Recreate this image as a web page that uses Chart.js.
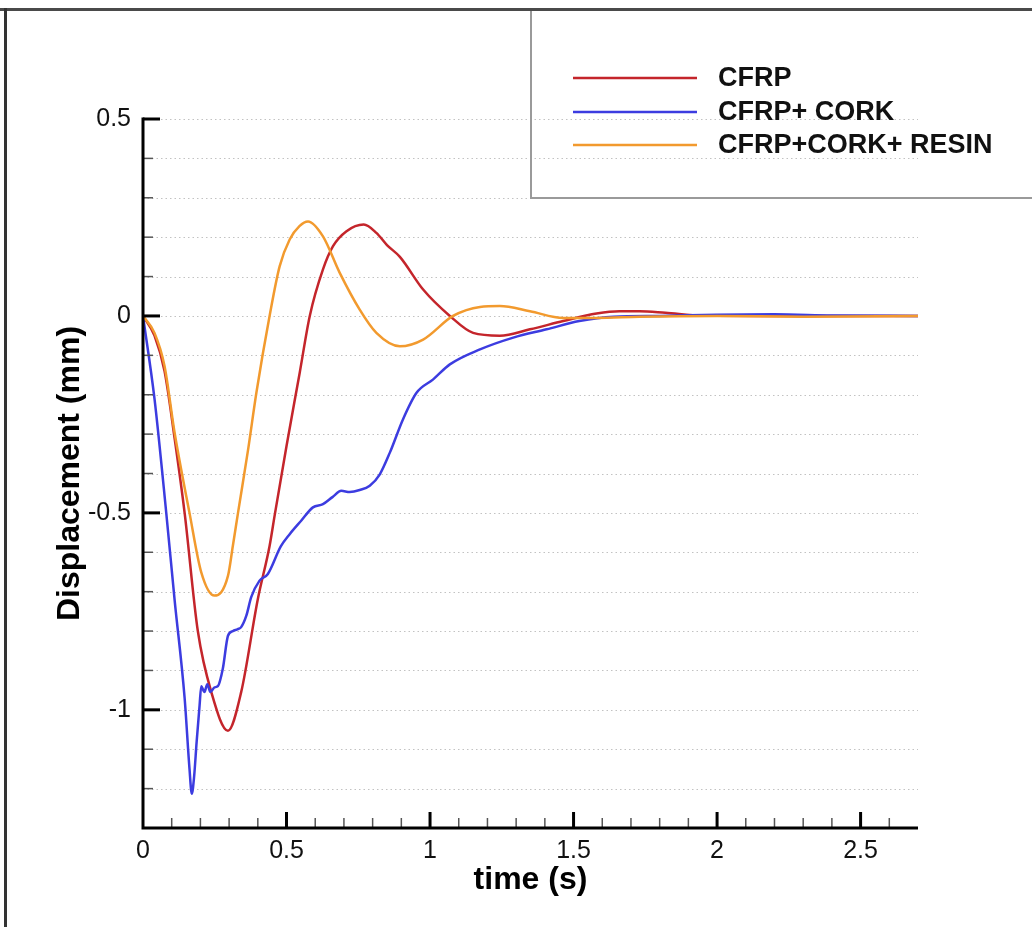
<!DOCTYPE html>
<html>
<head>
<meta charset="utf-8">
<title>Displacement vs time</title>
<script src="https://cdn.jsdelivr.net/npm/chart.js@4.4.1/dist/chart.umd.min.js"></script>
<style>
  html, body { margin: 0; padding: 0; background: #fff; }
  canvas { display: block; }
</style>
</head>
<body>
<canvas id="dispChart" width="1032" height="927"></canvas>
<script>
// values (time in s, displacement in mm)
const seriesNames = ["CFRP", "CFRP+ CORK", "CFRP+CORK+ RESIN"];
const seriesColors = ["#c4252b", "#3c3ce0", "#f29a2e"];

const cfrpT = [0, 0.04, 0.075, 0.11, 0.145, 0.191, 0.238, 0.296, 0.342, 0.40, 0.441, 0.459, 0.50, 0.546, 0.581, 0.627, 0.662, 0.709, 0.769, 0.813, 0.85, 0.895, 0.976, 1.069, 1.15, 1.243, 1.348, 1.464, 1.58, 1.66, 1.73, 1.82, 1.95, 2.2, 2.7];
const cfrpY = [0, -0.05, -0.14, -0.31, -0.50, -0.80, -0.955, -1.053, -0.955, -0.719, -0.584, -0.505, -0.33, -0.144, 0, 0.118, 0.177, 0.215, 0.232, 0.211, 0.18, 0.15, 0.067, 0, -0.043, -0.05, -0.034, -0.013, 0.006, 0.012, 0.012, 0.008, 0.001, 0, 0];

const corkT = [0, 0.04, 0.081, 0.11, 0.145, 0.162, 0.170, 0.178, 0.187, 0.197, 0.203, 0.214, 0.224, 0.235, 0.249, 0.261, 0.278, 0.296, 0.313, 0.330, 0.342, 0.36, 0.377, 0.406, 0.435, 0.48, 0.511, 0.551, 0.592, 0.627, 0.66, 0.691, 0.72, 0.755, 0.79, 0.825, 0.86, 0.906, 0.953, 1.011, 1.069, 1.174, 1.29, 1.406, 1.52, 1.64, 1.8, 2.0, 2.2, 2.4, 2.7];
const corkY = [0, -0.21, -0.50, -0.72, -0.97, -1.15, -1.213, -1.17, -1.08, -0.99, -0.94, -0.955, -0.935, -0.955, -0.943, -0.940, -0.896, -0.812, -0.80, -0.795, -0.79, -0.761, -0.714, -0.672, -0.655, -0.585, -0.554, -0.52, -0.486, -0.478, -0.46, -0.444, -0.447, -0.442, -0.431, -0.402, -0.347, -0.262, -0.195, -0.161, -0.123, -0.085, -0.055, -0.034, -0.013, -0.002, 0, 0.003, 0.004, 0.001, 0];

const resinT = [0, 0.04, 0.075, 0.11, 0.162, 0.203, 0.249, 0.296, 0.313, 0.331, 0.366, 0.395, 0.441, 0.476, 0.511, 0.545, 0.575, 0.627, 0.685, 0.755, 0.813, 0.895, 0.976, 1.08, 1.174, 1.243, 1.348, 1.464, 1.58, 1.73, 2.0, 2.3, 2.7];
const resinY = [0, -0.043, -0.127, -0.296, -0.50, -0.651, -0.71, -0.66, -0.584, -0.50, -0.34, -0.195, 0, 0.126, 0.194, 0.228, 0.240, 0.202, 0.11, 0.016, -0.043, -0.077, -0.06, 0, 0.023, 0.025, 0.012, -0.005, -0.005, -0.002, 0, -0.002, 0];

const xMajorTicks = [0, 0.5, 1, 1.5, 2, 2.5];
const yMajorTicks = [-1, -0.5, 0, 0.5];
const xTickLabels = ["0", "0.5", "1", "1.5", "2", "2.5"];
const yTickLabels = ["-1", "-0.5", "0", "0.5"];

const FONT = '"Liberation Sans", Arial, Helvetica, sans-serif';

function toPoints(ts, ys) {
  return ts.map((t, i) => ({ x: t, y: ys[i] }));
}
function majorLabel(v, majors, labels) {
  const i = majors.findIndex(m => Math.abs(m - v) < 1e-6);
  return i >= 0 ? labels[i] : '';
}
function isMajor(v, majors) {
  return majors.some(m => Math.abs(m - v) < 1e-6);
}

// grid, inward ticks, axis lines, titles, legend, frame
const decor = {
  id: 'decor',
  beforeDatasetsDraw(chart) {
    const { ctx, chartArea: a, scales: { y } } = chart;
    ctx.save();
    ctx.strokeStyle = '#c2c2c2';
    ctx.lineWidth = 1;
    ctx.setLineDash([1.5, 3]);
    y.ticks.forEach(t => {
      if (t.value < -1.29) return;
      const py = Math.round(y.getPixelForValue(t.value)) + 0.5;
      ctx.beginPath();
      ctx.moveTo(a.left, py);
      ctx.lineTo(a.right, py);
      ctx.stroke();
    });
    ctx.restore();
  },
  afterDatasetsDraw(chart) {
    const { ctx, chartArea: a, scales: { x, y } } = chart;
    ctx.save();
    // y ticks (pointing right)
    y.ticks.forEach(t => {
      if (t.value < -1.29) return;
      const py = y.getPixelForValue(t.value);
      const major = isMajor(t.value, yMajorTicks);
      ctx.strokeStyle = major ? '#000' : '#555';
      ctx.lineWidth = major ? 3 : 1.5;
      ctx.beginPath();
      ctx.moveTo(a.left, py);
      ctx.lineTo(a.left + (major ? 17 : 10), py);
      ctx.stroke();
    });
    // x ticks (pointing up)
    x.ticks.forEach(t => {
      if (t.value < 0.05 || t.value > 2.65) return;
      const px = x.getPixelForValue(t.value);
      const major = isMajor(t.value, xMajorTicks);
      ctx.strokeStyle = major ? '#000' : '#555';
      ctx.lineWidth = major ? 3 : 1.5;
      ctx.beginPath();
      ctx.moveTo(px, a.bottom);
      ctx.lineTo(px, a.bottom - (major ? 16 : 10));
      ctx.stroke();
    });
    // axis lines
    ctx.strokeStyle = '#000';
    ctx.lineWidth = 3;
    ctx.beginPath();
    ctx.moveTo(a.left, a.top - 1.5);
    ctx.lineTo(a.left, a.bottom);
    ctx.lineTo(a.right, a.bottom);
    ctx.stroke();
    ctx.restore();
  },
  afterDraw(chart) {
    const { ctx, chartArea: a } = chart;
    ctx.save();
    // axis titles
    ctx.fillStyle = '#000';
    ctx.font = 'bold 32px ' + FONT;
    ctx.textAlign = 'center';
    ctx.textBaseline = 'middle';
    ctx.fillText('time (s)', (a.left + a.right) / 2, 880);
    ctx.translate(70, (a.top + a.bottom) / 2);
    ctx.rotate(-Math.PI / 2);
    ctx.fillText('Displacement (mm)', 0, 0);
    ctx.restore();

    // legend box
    ctx.save();
    ctx.strokeStyle = '#9a9a9a';
    ctx.lineWidth = 2;
    ctx.strokeRect(531, 10, 520, 188);
    const rows = [78, 112, 145];
    chart.data.datasets.forEach((ds, i) => {
      ctx.strokeStyle = ds.borderColor;
      ctx.lineWidth = 2.5;
      ctx.beginPath();
      ctx.moveTo(573, rows[i]);
      ctx.lineTo(697, rows[i]);
      ctx.stroke();
      ctx.fillStyle = '#111';
      ctx.font = 'bold 27px ' + FONT;
      ctx.textAlign = 'left';
      ctx.textBaseline = 'middle';
      ctx.fillText(ds.label, 718, rows[i] + 1);
    });
    // outer frame of the figure
    ctx.fillStyle = '#4a4a4a';
    ctx.fillRect(0, 8, 1032, 3);
    ctx.fillStyle = '#333';
    ctx.fillRect(4, 8, 3, 919);
    ctx.restore();
  }
};

const ctx = document.getElementById('dispChart').getContext('2d');

new Chart(ctx, {
  type: 'line',
  data: {
    datasets: [
      { label: seriesNames[0], data: toPoints(cfrpT, cfrpY), borderColor: seriesColors[0], order: 2 },
      { label: seriesNames[1], data: toPoints(corkT, corkY), borderColor: seriesColors[1], order: 1, tension: 0.15 },
      { label: seriesNames[2], data: toPoints(resinT, resinY), borderColor: seriesColors[2], order: 0 }
    ]
  },
  options: {
    responsive: false,
    animation: false,
    parsing: false,
    elements: {
      point: { radius: 0 },
      line: { borderWidth: 2.5, tension: 0.35, cubicInterpolationMode: 'monotone', fill: false }
    },
    layout: { padding: { top: 119, right: 114, left: 0, bottom: 0 } },
    plugins: {
      legend: { display: false },
      tooltip: { enabled: false },
      title: { display: false }
    },
    scales: {
      x: {
        type: 'linear',
        min: 0,
        max: 2.7,
        grid: { display: false, drawTicks: false },
        border: { display: false },
        ticks: {
          stepSize: 0.1,
          maxTicksLimit: 100,
          autoSkip: false,
          maxRotation: 0,
          padding: 8,
          color: '#111',
          font: { family: FONT, size: 25 },
          callback: v => majorLabel(v, xMajorTicks, xTickLabels)
        },
        afterFit: s => { s.height = 99; }
      },
      y: {
        type: 'linear',
        min: -1.3,
        max: 0.5,
        grid: { display: false, drawTicks: false },
        border: { display: false },
        ticks: {
          stepSize: 0.1,
          maxTicksLimit: 100,
          autoSkip: false,
          padding: 12,
          color: '#111',
          font: { family: FONT, size: 25 },
          callback: v => majorLabel(v, yMajorTicks, yTickLabels)
        },
        afterFit: s => { s.width = 143; }
      }
    }
  },
  plugins: [decor]
});
</script>
</body>
</html>
